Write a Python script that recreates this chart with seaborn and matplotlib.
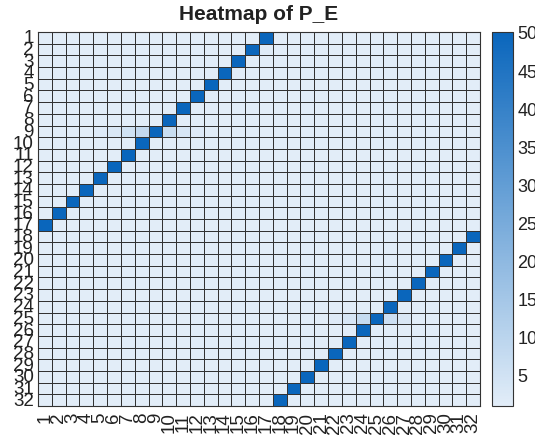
import numpy as np
import pandas as pd
import matplotlib
matplotlib.use("Agg")
import matplotlib.pyplot as plt
import seaborn as sns
from matplotlib.colors import LinearSegmentedColormap

# ---- data ----
labels = [str(i) for i in range(1, 33)]
base_value = 0.85
peak_value = 50
# column (1-based) holding the peak for each row 1..32
peak_col = [17, 16, 15, 14, 13, 12, 11, 10, 9, 8, 7, 6, 5, 4, 3, 2, 1,
            32, 31, 30, 29, 28, 27, 26, 25, 24, 23, 22, 21, 20, 19, 18]
# faintly tinted cells: (row, col, value)
tint_rows = [9, 9, 9, 9, 9, 9, 9, 25, 25, 25, 25, 25, 2]
tint_cols = [5, 6, 7, 8, 10, 11, 12, 22, 23, 24, 26, 27, 17]
tint_vals = [2.0, 3.0, 5.0, 8.0, 6.5, 3.5, 2.0, 2.0, 3.5, 7.5, 6.0, 3.0, 1.8]

mat = np.full((32, 32), base_value)
for r, c in enumerate(peak_col):
    mat[r, c - 1] = peak_value
for r, c, v in zip(tint_rows, tint_cols, tint_vals):
    mat[r - 1, c - 1] = v
df = pd.DataFrame(mat, index=labels, columns=labels)

cmap = LinearSegmentedColormap.from_list("sky", ["#e2edf8", "#0a66bc"])

sns.set_style("white")
plt.rcParams['font.family'] = ['Liberation Sans', 'DejaVu Sans']

fig = plt.figure(figsize=(5.35, 4.39), dpi=100)
ax = fig.add_axes([38 / 535, 32 / 439, 442 / 535, 374 / 439])
cax = fig.add_axes([492 / 535, 32 / 439, 21 / 535, 374 / 439])

sns.heatmap(df, ax=ax, cbar_ax=cax, cmap=cmap, linewidths=0.7,
            linecolor="#333333", xticklabels=labels, yticklabels=labels,
            cbar_kws={"ticks": [5, 10, 15, 20, 25, 30, 35, 40, 45, 50]})

ax.set_title("Heatmap of P_E", fontsize=15, fontweight="bold", pad=9,
             color="#222222")
ax.tick_params(axis="both", length=0, labelsize=13.5, colors="#222222")
ax.tick_params(axis="x", pad=4)
ax.tick_params(axis="y", pad=3)
for t in ax.get_xticklabels():
    t.set_rotation(90)
for t in ax.get_yticklabels():
    t.set_rotation(0)
for s in ax.spines.values():
    s.set_visible(True)
    s.set_color("#333333")
    s.set_linewidth(0.8)

cax.tick_params(direction="in", length=4, width=0.6, labelsize=13,
                colors="#222222", pad=3)
cb = ax.collections[0].colorbar
cb.outline.set_visible(True)
cb.outline.set_edgecolor("#333333")
cb.outline.set_linewidth(0.8)

fig.savefig("out.png", dpi=100)
